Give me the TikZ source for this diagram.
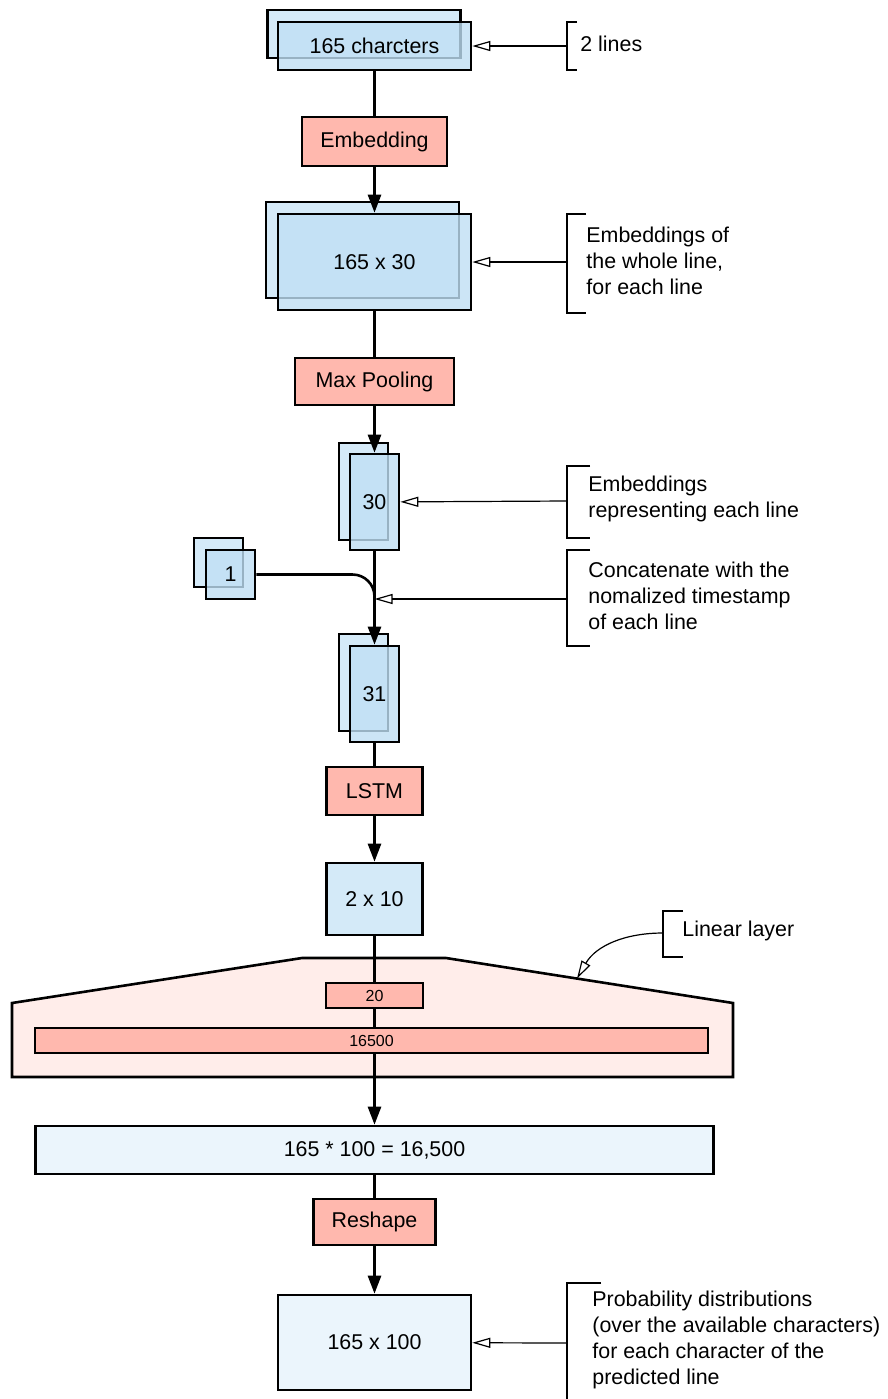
\documentclass[tikz,border=0pt]{standalone}
\usepackage{fontspec}
\setmainfont{Liberation Sans}
\usetikzlibrary{arrows.meta}

\definecolor{opred}{HTML}{FFB8AE}
\definecolor{vecblue}{HTML}{BFDFF4}
\definecolor{hidblue}{HTML}{D4EAF8}
\definecolor{outblue}{HTML}{EBF5FC}
\definecolor{linpink}{HTML}{FFEDEA}

\begin{document}
\begin{tikzpicture}[x=0.5pt,y=-0.5pt,
    font=\fontsize{10.7}{13}\selectfont,
    box/.style={draw,line width=1.3pt,inner sep=0pt},
    op/.style={box,fill=opred},
    vec/.style={box,fill=vecblue,fill opacity=0.8,text opacity=1},
    ghost/.style={box,fill=vecblue,fill opacity=0.65},
    link/.style={line width=1.3pt},
    flow/.style={line width=1.3pt,-{Triangle[length=9pt,width=6.5pt]}},
    brace/.style={line width=1.3pt},
    note/.style={line width=0.6pt,-{Triangle[open,length=9pt,width=5pt]}},
    remark/.style={anchor=west,align=left,inner sep=0pt}]

    \useasboundingbox (0,0) rectangle (888,1399);

    % input characters
    \node[ghost,minimum width=96.5pt,minimum height=24pt] (chars_b) at (364,34) {};
    \node[vec,minimum width=96.5pt,minimum height=24pt] (chars) at (374.5,46) {165 charcters};
    \draw[brace] (577,22) -| (567,70) -- (577,70);
    \coordinate (n1) at (567,46);
    \node[remark] (t1) at (580,44) {2 lines};
    \draw[note] (n1) to (chars);

    % embedding
    \node[op,minimum width=72.5pt,minimum height=24.5pt] (embed) at (374.5,141.5) {Embedding};
    \draw[link] (chars) to (embed);

    % embeddings of the line
    \node[ghost,minimum width=96.5pt,minimum height=48pt] (emb_b) at (362.5,250) {};
    \node[vec,minimum width=96.5pt,minimum height=48pt] (emb) at (374.5,262) {165 x 30};
    \draw[flow] (embed) to (emb);
    \draw[brace] (586,214) -| (567,313) -- (586,313);
    \coordinate (n2) at (567,262);
    \node[remark] (t2) at (586,261) {Embeddings of\\the whole line,\\for each line};
    \draw[note] (n2) to (emb);

    % max pooling
    \node[op,minimum width=79.5pt,minimum height=23.5pt] (pool) at (374.5,381.5) {Max Pooling};
    \draw[link] (emb) to (pool);

    % line vector
    \node[ghost,minimum width=24.5pt,minimum height=48.5pt] (line_b) at (363.5,491.5) {};
    \node[vec,minimum width=24.5pt,minimum height=48pt] (line) at (374.5,502) {30};
    \draw[flow] (pool) to (line);
    \draw[brace] (590,466) -| (567,538) -- (590,538);
    \coordinate (n3) at (567,501);
    \node[remark] (t3) at (588,499) {Embeddings\\representing each line};
    \draw[note] (n3) to (line);

    % timestamp
    \node[ghost,minimum width=24.5pt,minimum height=24.5pt] (ts_b) at (218.5,562.5) {};
    \node[vec,minimum width=24.5pt,minimum height=24.5pt] (ts) at (230.5,574.5) {1};
    \coordinate (join) at (374.5,599);
    \draw[link,rounded corners=11pt] (ts) -| (join);

    % concatenated vector
    \node[ghost,minimum width=24.5pt,minimum height=48.5pt] (cat_b) at (363.5,682.5) {};
    \node[vec,minimum width=24.5pt,minimum height=48pt] (cat) at (374.5,694) {31};
    \draw[flow] (line) to (cat);
    \draw[brace] (590,550) -| (567,646) -- (590,646);
    \coordinate (n4) at (567,599);
    \node[remark] (t4) at (588,596) {Concatenate with the\\nomalized timestamp\\of each line};
    \draw[note] (n4) to (join);

    % lstm
    \node[op,minimum width=48pt,minimum height=24pt] (lstm) at (374.5,791) {LSTM};
    \draw[link] (cat) to (lstm);
    \node[box,fill=hidblue,minimum width=48pt,minimum height=36pt] (hid) at (374.5,899) {2 x 10};
    \draw[flow] (lstm) to (hid);

    % linear layer
    \draw[line width=1.3pt,fill=linpink] (12,1077) -- (12,1003) -- (302,958) -- (446,958)
        -- (733,1003) -- (733,1077) -- cycle;
    \coordinate (lin_edge) at (577,978.5);
    \node[op,font=\fontsize{8}{10}\selectfont,minimum width=48.5pt,minimum height=12.5pt] (l20) at (374.5,995.5) {20};
    \node[op,font=\fontsize{8}{10}\selectfont,minimum width=336.5pt,minimum height=12.5pt] (l16500) at (371.5,1040.5) {16500};
    \draw[link] (hid) to (l20);
    \draw[link] (l20) to (l20 |- l16500.north);
    \draw[brace] (683,911) -| (663,957) -- (683,957);
    \coordinate (n6) at (663,933);
    \node[remark] (t6) at (682,931) {Linear layer};
    \draw[note] (n6) to[out=180,in=60] (lin_edge);

    % flat output
    \node[box,fill=outblue,minimum width=339pt,minimum height=24pt] (flat) at (374.5,1150) {165 * 100 = 16,500};
    \draw[flow] (l20 |- l16500.south) to (l20 |- flat.north);

    % reshape
    \node[op,minimum width=61pt,minimum height=23pt] (reshape) at (374.5,1222) {Reshape};
    \draw[link] (flat) to (reshape);
    \node[box,fill=outblue,minimum width=96.5pt,minimum height=47.5pt] (probs) at (374.5,1342.5) {165 x 100};
    \draw[flow] (reshape) to (probs);
    \draw[brace] (601,1283) -| (567,1399);
    \coordinate (n5) at (567,1343);
    \node[remark] (t5) at (592,1340) {Probability distributions\\(over the available characters)\\for each character of the\\predicted line};
    \draw[note] (n5) to (probs);

\end{tikzpicture}
\end{document}
